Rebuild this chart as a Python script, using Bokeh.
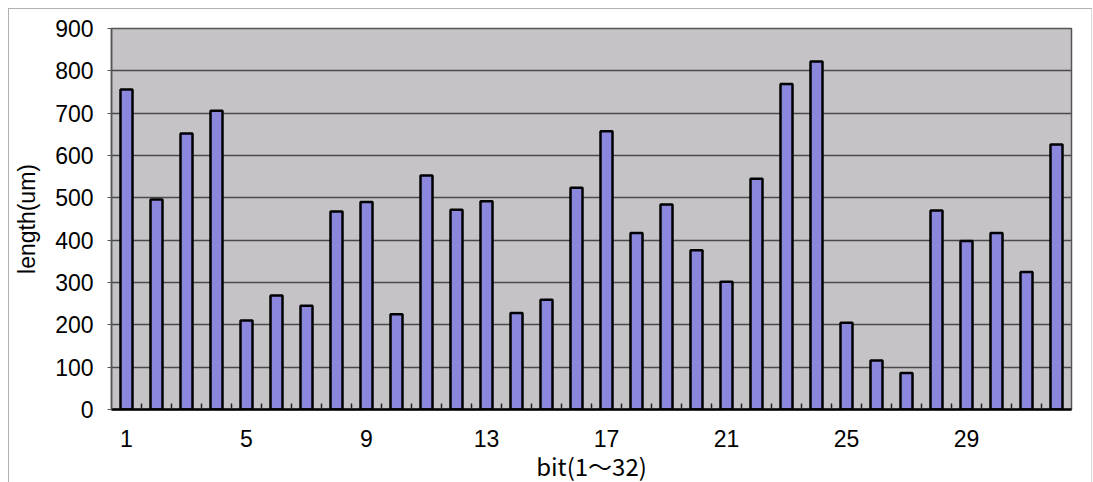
from bokeh.plotting import figure
from bokeh.models import FixedTicker, Range1d
from bokeh.embed import file_html
from bokeh.resources import INLINE

bits = list(range(1, 33))
lengths = [756, 496, 652, 706, 210, 269, 245, 468, 490, 225, 553, 472,
           492, 228, 259, 524, 657, 417, 484, 376, 302, 545, 769, 822,
           205, 116, 86, 470, 398, 417, 325, 626]
x_tick_labels = [1, 5, 9, 13, 17, 21, 25, 29]
y_ticks = [0, 100, 200, 300, 400, 500, 600, 700, 800, 900]

p = figure(width=1082, height=472, output_backend="svg", toolbar_location=None,
           x_range=Range1d(0.5, 32.5), y_range=Range1d(0, 900),
           min_border_left=102, min_border_right=20, min_border_top=19,
           min_border_bottom=72)
p.frame_width = 960
p.frame_height = 381
p.styles = {"margin-left": "8px", "margin-top": "8px",
            "border-left": "1px solid #b0b0b0", "border-top": "1px solid #b0b0b0",
            "border-right": "1px solid #d8d8d8"}

p.background_fill_color = "#c6c3c7"
p.border_fill_color = "white"
p.outline_line_color = "#555555"
p.outline_line_width = 1.5

p.vbar(x=bits, top=lengths, width=0.4, fill_color="#8a87dc",
       line_color="black", line_width=2.5)

p.xgrid.grid_line_color = None
p.ygrid.grid_line_color = "#4a4a4a"
p.ygrid.grid_line_width = 1.5

p.yaxis.ticker = FixedTicker(ticks=y_ticks)
p.xaxis.ticker = FixedTicker(ticks=x_tick_labels,
                             minor_ticks=[b + 0.5 for b in bits[:-1]])

font = "Liberation Sans"
for ax in (p.xaxis, p.yaxis):
    ax.major_label_text_font = font
    ax.major_label_text_font_size = "23px"
    ax.major_label_text_color = "black"
    ax.axis_label_text_font = font
    ax.axis_label_text_font_style = "normal"
    ax.axis_label_text_color = "black"

p.xaxis.axis_label = "bit(1～32)"
p.xaxis.axis_label_text_font = "Noto Sans CJK JP"
p.xaxis.axis_label_text_font_size = "24px"
p.xaxis.axis_label_standoff = -2
p.xaxis.major_label_standoff = 20
p.xaxis.major_tick_in = 0
p.xaxis.major_tick_out = 0
p.xaxis.minor_tick_in = 6
p.xaxis.minor_tick_out = 0
p.xaxis.minor_tick_line_color = "#222222"
p.xaxis.minor_tick_line_width = 1.5
p.xaxis.axis_line_color = "black"
p.xaxis.axis_line_width = 2.5

p.yaxis.axis_label = "length(um)"
p.yaxis.axis_label_text_font_size = "23px"
p.yaxis.axis_label_standoff = 12
p.yaxis.major_label_standoff = 14
p.yaxis.major_tick_in = 0
p.yaxis.major_tick_out = 4
p.yaxis.major_tick_line_color = "#555555"
p.yaxis.minor_tick_line_color = None
p.yaxis.axis_line_color = "#555555"
p.yaxis.axis_line_width = 1.5

open("out.html", "w").write(file_html(p, INLINE))
